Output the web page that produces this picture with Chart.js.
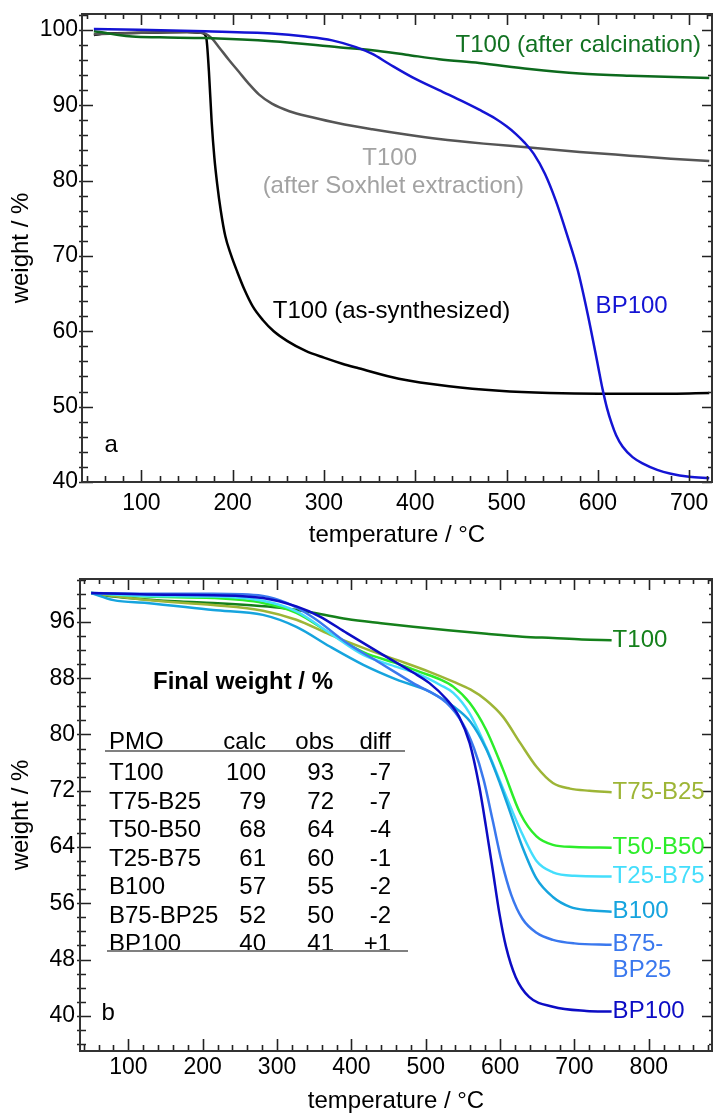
<!DOCTYPE html>
<html>
<head>
<meta charset="utf-8">
<script src="https://cdn.jsdelivr.net/npm/chart.js@4.4.1/dist/chart.umd.min.js"></script>
<style>
  html, body { margin: 0; padding: 0; background: #fff; }
  #wrap { position: relative; width: 714px; height: 1116px; overflow: hidden; }
  canvas { position: absolute; left: 0; }
  #chartA { top: 0; }
  #chartB { top: 560px; }
</style>
</head>
<body>
<div id="wrap">
  <canvas id="chartA" width="714" height="560"></canvas>
  <canvas id="chartB" width="714" height="556"></canvas>
</div>
<script>
// ---- panel a: T100 after each treatment step, plus BP100 ----
const tempAsSynth   = [48, 60, 100, 150, 166, 171, 174, 177, 180, 183, 187, 192, 198, 205, 213, 222, 233, 245, 260, 280, 300, 320, 338, 382, 437, 492, 547, 601, 656, 722];
const weightAsSynth = [99.3, 99.5, 99.6, 99.7, 99.6, 99.0, 94.5, 87.8, 83.0, 79.6, 76.0, 72.6, 70.2, 67.9, 65.5, 63.3, 61.5, 60.0, 58.7, 57.4, 56.5, 55.7, 55.1, 53.7, 52.7, 52.1, 51.8, 51.7, 51.7, 51.8];

const tempSoxhlet   = [48, 100, 150, 165, 170, 177, 185, 196, 207, 218, 229, 243, 262, 287, 316, 353, 390, 426, 475, 525, 580, 635, 680, 722];
const weightSoxhlet = [99.4, 99.6, 99.7, 99.6, 99.5, 98.9, 97.7, 96.0, 94.4, 92.8, 91.4, 90.2, 89.2, 88.4, 87.6, 86.8, 86.1, 85.5, 84.9, 84.4, 83.8, 83.3, 82.9, 82.6];

const tempCalcined   = [48, 60, 75, 90, 120, 170, 243, 316, 353, 390, 426, 470, 525, 580, 635, 722];
const weightCalcined = [99.8, 99.6, 99.3, 99.1, 99.0, 98.9, 98.5, 97.7, 97.3, 96.7, 96.1, 95.6, 94.8, 94.2, 93.9, 93.6];

const tempBP100a   = [48, 97, 170, 243, 280, 309, 335, 353, 371, 397, 426, 452, 470, 488, 500, 510, 520, 530, 542, 554, 566, 578, 589, 600, 605, 610, 615, 620, 627, 638, 650, 665, 680, 700, 722];
const weightBP100a = [100.1, 100.0, 99.8, 99.5, 99.1, 98.6, 97.7, 96.8, 95.5, 93.7, 92.0, 90.5, 89.4, 88.2, 87.2, 86.2, 85.0, 83.5, 80.9, 77.3, 72.9, 68.1, 62.2, 55.5, 52.4, 49.8, 47.8, 46.2, 44.7, 43.3, 42.4, 41.6, 41.1, 40.7, 40.5];

const xTicksA = [100, 200, 300, 400, 500, 600, 700];
const yTicksA = [40, 50, 60, 70, 80, 90, 100];

// ---- panel b: calcined PMO series ----
const tempT100   = [50, 80, 125, 170, 214, 260, 304, 349, 394, 440, 483, 530, 582, 630, 671, 710, 750];
const weightT100 = [100.1, 99.6, 99.2, 98.9, 98.7, 98.4, 98.0, 97.3, 96.4, 95.8, 95.3, 94.8, 94.3, 93.9, 93.7, 93.5, 93.4];

const tempT75B25   = [50, 125, 214, 281, 326, 371, 416, 461, 505, 537, 560, 581, 604, 627, 649, 671, 694, 720, 750];
const weightT75B25 = [100.1, 99.1, 98.4, 97.6, 96.3, 94.2, 92.3, 90.6, 88.9, 87.5, 86.4, 84.9, 82.5, 78.8, 75.4, 73.1, 72.3, 72.0, 71.8];

const tempT50B50   = [50, 125, 214, 281, 326, 371, 416, 461, 492, 520, 537, 559, 581, 604, 627, 649, 671, 700, 750];
const weightT50B50 = [100.1, 99.6, 99.4, 98.7, 97.3, 94.4, 91.7, 90.1, 88.9, 87.8, 86.8, 84.5, 80.7, 75.0, 68.8, 65.5, 64.3, 64.0, 63.9];

const tempT25B75   = [50, 125, 214, 281, 326, 371, 416, 461, 492, 520, 537, 559, 581, 604, 627, 649, 671, 700, 750];
const weightT25B75 = [100.1, 99.7, 99.6, 99.0, 97.5, 94.4, 91.3, 89.6, 88.5, 87.0, 85.9, 83.0, 78.2, 72.3, 66.5, 62.0, 60.4, 59.9, 59.8];

const tempB100   = [50, 80, 125, 214, 281, 326, 371, 416, 461, 505, 537, 560, 581, 600, 615, 630, 649, 671, 694, 720, 750];
const weightB100 = [100.1, 99.1, 98.7, 97.7, 97.0, 95.3, 92.5, 89.9, 87.8, 86.1, 84.0, 81.8, 78.0, 73.0, 68.5, 64.0, 59.5, 56.9, 55.5, 55.0, 54.8];

const tempB75BP25   = [50, 125, 214, 281, 313, 349, 394, 438, 483, 528, 550, 565, 578, 590, 602, 615, 630, 649, 671, 700, 750];
const weightB75BP25 = [100.1, 100.0, 100.0, 99.7, 98.7, 96.6, 93.0, 90.2, 87.3, 84.5, 81.5, 78.0, 73.5, 67.8, 62.0, 57.2, 53.8, 51.8, 50.8, 50.3, 50.1];

const tempBP100b   = [50, 125, 214, 281, 326, 357, 394, 438, 483, 505, 528, 545, 559, 572, 581, 590, 599, 608, 621, 639, 671, 716, 750];
const weightBP100b = [100.1, 99.9, 99.8, 99.4, 98.2, 96.8, 94.4, 91.6, 88.8, 87.3, 85.0, 82.5, 78.8, 72.6, 66.9, 60.8, 54.6, 49.8, 45.5, 42.7, 41.3, 40.7, 40.6];

const xTicksB = [100, 200, 300, 400, 500, 600, 700, 800];
const yTicksB = [40, 48, 56, 64, 72, 80, 88, 96];

// final weight table
const tableHead  = ['PMO', 'calc', 'obs', 'diff'];
const tableNames = ['T100', 'T75-B25', 'T50-B50', 'T25-B75', 'B100', 'B75-BP25', 'BP100'];
const calcWeight = [100, 79, 68, 61, 57, 52, 40];
const obsWeight  = [93, 72, 64, 60, 55, 50, 41];
const diffWeight = ['-7', '-7', '-4', '-1', '-2', '-2', '+1'];

const FAMILY = "'Liberation Sans', Arial, sans-serif";
const TICK_PX = 23;
const TEXT_PX = 24;
const FONT = `${TEXT_PX}px ${FAMILY}`;

const pts = (xs, ys) => xs.map((x, i) => ({ x, y: ys[i] }));

function minorTicks(min, max, step, majors) {
  const out = [];
  for (let v = Math.ceil(min / step) * step; v <= max + 1e-9; v += step) {
    const r = Math.round(v * 1000) / 1000;
    if (!majors.includes(r)) out.push(r);
  }
  return out;
}

// box frame with inward tick marks on all four sides
const frameTicks = {
  id: 'frameTicks',
  afterDatasetsDraw(chart, args, o) {
    const { ctx, chartArea: a, scales: { x, y } } = chart;
    const xMinor = minorTicks(x.min, x.max, o.xStep, o.xMajor);
    const yMinor = minorTicks(y.min, y.max, o.yStep, o.yMajor);
    ctx.save();
    ctx.strokeStyle = '#222';
    ctx.lineWidth = 1.6;
    ctx.beginPath();
    const vx = (list, len, side) => list.forEach(v => {
      const p = Math.round(x.getPixelForValue(v)) + 0.5;
      if (side === 'bottom') { ctx.moveTo(p, a.bottom); ctx.lineTo(p, a.bottom - len); }
      else { ctx.moveTo(p, a.top); ctx.lineTo(p, a.top + len); }
    });
    const vy = (list, len, side) => list.forEach(v => {
      const p = Math.round(y.getPixelForValue(v)) + 0.5;
      if (side === 'left') { ctx.moveTo(a.left - 3, p); ctx.lineTo(a.left + len, p); }
      else { ctx.moveTo(a.right, p); ctx.lineTo(a.right - len, p); }
    });
    vx(o.xMajor, 12, 'bottom'); vx(xMinor, 6, 'bottom');
    vx(o.xMajor, 11, 'top');    vx(xMinor, 5, 'top');
    vy(o.yMajor, 11, 'left');   vy(yMinor, 6, 'left');
    vy(o.yMajor, 10, 'right');  vy(yMinor, o.rightMinor, 'right');
    ctx.stroke();
    ctx.lineWidth = 2;
    ctx.strokeStyle = '#333';
    ctx.strokeRect(a.left, a.top, a.right - a.left, a.bottom - a.top);
    ctx.restore();
  }
};

// free text placed at data coordinates, end-of-curve labels and the table
const notes = {
  id: 'notes',
  afterDraw(chart, args, o) {
    const { ctx, scales: { x, y } } = chart;
    ctx.save();
    ctx.textBaseline = 'middle';
    (o.items || []).forEach(n => {
      ctx.font = n.font || FONT;
      ctx.fillStyle = n.color;
      ctx.textAlign = n.align || 'center';
      ctx.fillText(n.text, x.getPixelForValue(n.x), y.getPixelForValue(n.y));
    });
    if (o.endLabels) {
      ctx.font = FONT;
      ctx.textAlign = 'left';
      chart.data.datasets.forEach(ds => {
        if (!ds.endLabel) return;
        const last = ds.data[ds.data.length - 1];
        const px = x.getPixelForValue(last.x) + 1;
        const py = y.getPixelForValue(last.y);
        ctx.fillStyle = ds.borderColor;
        ds.endLabel.forEach((line, i) => ctx.fillText(line, px, py + i * 26));
      });
    }
    if (o.table) {
      const t = o.table;
      ctx.textBaseline = 'alphabetic';
      ctx.fillStyle = '#000';
      ctx.font = `bold ${TEXT_PX}px ${FAMILY}`;
      ctx.textAlign = 'center';
      ctx.fillText(t.title, t.titleX, t.titleY);
      ctx.font = FONT;
      const row = (cells, yy) => {
        ctx.textAlign = 'left';
        ctx.fillText(cells[0], t.nameX, yy);
        ctx.textAlign = 'right';
        t.colX.forEach((cx, i) => ctx.fillText(String(cells[i + 1]), cx, yy));
      };
      row(tableHead, t.headY);
      tableNames.forEach((nm, i) => row([nm, calcWeight[i], obsWeight[i], diffWeight[i]], t.rowY + i * t.rowGap));
      ctx.strokeStyle = '#808080';
      ctx.lineWidth = 2;
      ctx.beginPath();
      ctx.moveTo(t.lineX0, t.headY + 2); ctx.lineTo(t.lineX1, t.headY + 2);
      const yb = t.rowY + (tableNames.length - 1) * t.rowGap;
      ctx.moveTo(t.lineX0 + 2, yb); ctx.lineTo(t.lineX1 + 3, yb);
      ctx.stroke();
    }
    ctx.restore();
  }
};

function axisX(min, max, ticks, height, tickPad, titleBottom) {
  return {
    type: 'linear', min, max,
    grid: { display: false, drawTicks: false },
    border: { display: false },
    afterBuildTicks: s => { s.ticks = ticks.map(v => ({ value: v })); },
    afterFit: s => { s.height = height; s.paddingLeft = 0; s.paddingRight = 0; },
    ticks: { font: { family: FAMILY, size: TICK_PX }, color: '#000', padding: tickPad, maxRotation: 0, autoSkip: false },
    title: { display: true, text: 'temperature / °C', color: '#000',
             font: { family: FAMILY, size: TEXT_PX }, padding: { top: 0, bottom: titleBottom } }
  };
}

function axisY(min, max, ticks, width, tickPad) {
  return {
    type: 'linear', min, max,
    grid: { display: false, drawTicks: false },
    border: { display: false },
    afterBuildTicks: s => { s.ticks = ticks.map(v => ({ value: v })); },
    afterFit: s => { s.width = width; s.paddingTop = 0; s.paddingBottom = 0; },
    ticks: { font: { family: FAMILY, size: TICK_PX }, color: '#000', padding: tickPad, autoSkip: false },
    title: { display: true, text: 'weight / %', color: '#000',
             font: { family: FAMILY, size: TEXT_PX }, padding: { top: 7, bottom: 0 } }
  };
}

const baseOptions = {
  responsive: false,
  animation: false,
  events: [],
  elements: { point: { radius: 0 }, line: { borderWidth: 2.5, cubicInterpolationMode: 'monotone' } }
};

const line = (label, xs, ys, color, extra) =>
  Object.assign({ label, data: pts(xs, ys), borderColor: color, backgroundColor: color, fill: false }, extra || {});

new Chart(document.getElementById('chartA'), {
  type: 'line',
  data: {
    datasets: [
      line('BP100', tempBP100a, weightBP100a, '#1414d4'),
      line('T100 (after calcination)', tempCalcined, weightCalcined, '#0d6a1d'),
      line('T100 (after Soxhlet extraction)', tempSoxhlet, weightSoxhlet, '#555555'),
      line('T100 (as-synthesized)', tempAsSynth, weightAsSynth, '#000000')
    ]
  },
  options: Object.assign({}, baseOptions, {
    layout: { padding: { top: 14, right: 2, left: 0, bottom: 0 } },
    scales: {
      x: axisX(35, 725, xTicksA, 78, 8, 10),
      y: axisY(40, 102.1, yTicksA, 82, 4)
    },
    plugins: {
      legend: { display: false },
      tooltip: { enabled: false },
      frameTicks: { xMajor: xTicksA, xStep: 20, yMajor: yTicksA, yStep: 2, rightMinor: 4 },
      notes: {
        items: [
          { text: 'T100 (after calcination)', x: 713, y: 98.0, color: '#127222', align: 'right' },
          { text: 'T100', x: 372, y: 83.0, color: '#a2a2a2' },
          { text: '(after Soxhlet extraction)', x: 376, y: 79.2, color: '#a2a2a2' },
          { text: 'T100 (as-synthesized)', x: 374, y: 62.7, color: '#000000' },
          { text: 'BP100', x: 637, y: 63.3, color: '#1414d4' },
          { text: 'a', x: 67, y: 44.9, color: '#000000' }
        ]
      }
    }
  }),
  plugins: [frameTicks, notes]
});

new Chart(document.getElementById('chartB'), {
  type: 'line',
  data: {
    datasets: [
      line('BP100', tempBP100b, weightBP100b, '#0c0cc4', { endLabel: ['BP100'] }),
      line('B75-BP25', tempB75BP25, weightB75BP25, '#3a78ee', { endLabel: ['B75-', 'BP25'] }),
      line('B100', tempB100, weightB100, '#16a4de', { endLabel: ['B100'] }),
      line('T25-B75', tempT25B75, weightT25B75, '#44defc', { endLabel: ['T25-B75'] }),
      line('T50-B50', tempT50B50, weightT50B50, '#2ced2a', { endLabel: ['T50-B50'] }),
      line('T75-B25', tempT75B25, weightT75B25, '#9db536', { endLabel: ['T75-B25'] }),
      line('T100', tempT100, weightT100, '#15801b', { endLabel: ['T100'] })
    ]
  },
  options: Object.assign({}, baseOptions, {
    layout: { padding: { top: 19, right: 2, left: 0, bottom: 0 } },
    scales: {
      x: axisX(35, 885, xTicksB, 65, 3, 0),
      y: axisY(35, 102.1, yTicksB, 80, 5)
    },
    plugins: {
      legend: { display: false },
      tooltip: { enabled: false },
      frameTicks: { xMajor: xTicksB, xStep: 20, yMajor: yTicksB, yStep: 2, rightMinor: 3 },
      notes: {
        items: [ { text: 'b', x: 73, y: 40.4, color: '#000000' } ],
        endLabels: true,
        table: {
          title: 'Final weight / %', titleX: 243, titleY: 129,
          nameX: 109, colX: [266, 334, 391],
          headY: 189, rowY: 220, rowGap: 28.5,
          lineX0: 105, lineX1: 405
        }
      }
    }
  }),
  plugins: [frameTicks, notes]
});
</script>
</body>
</html>
